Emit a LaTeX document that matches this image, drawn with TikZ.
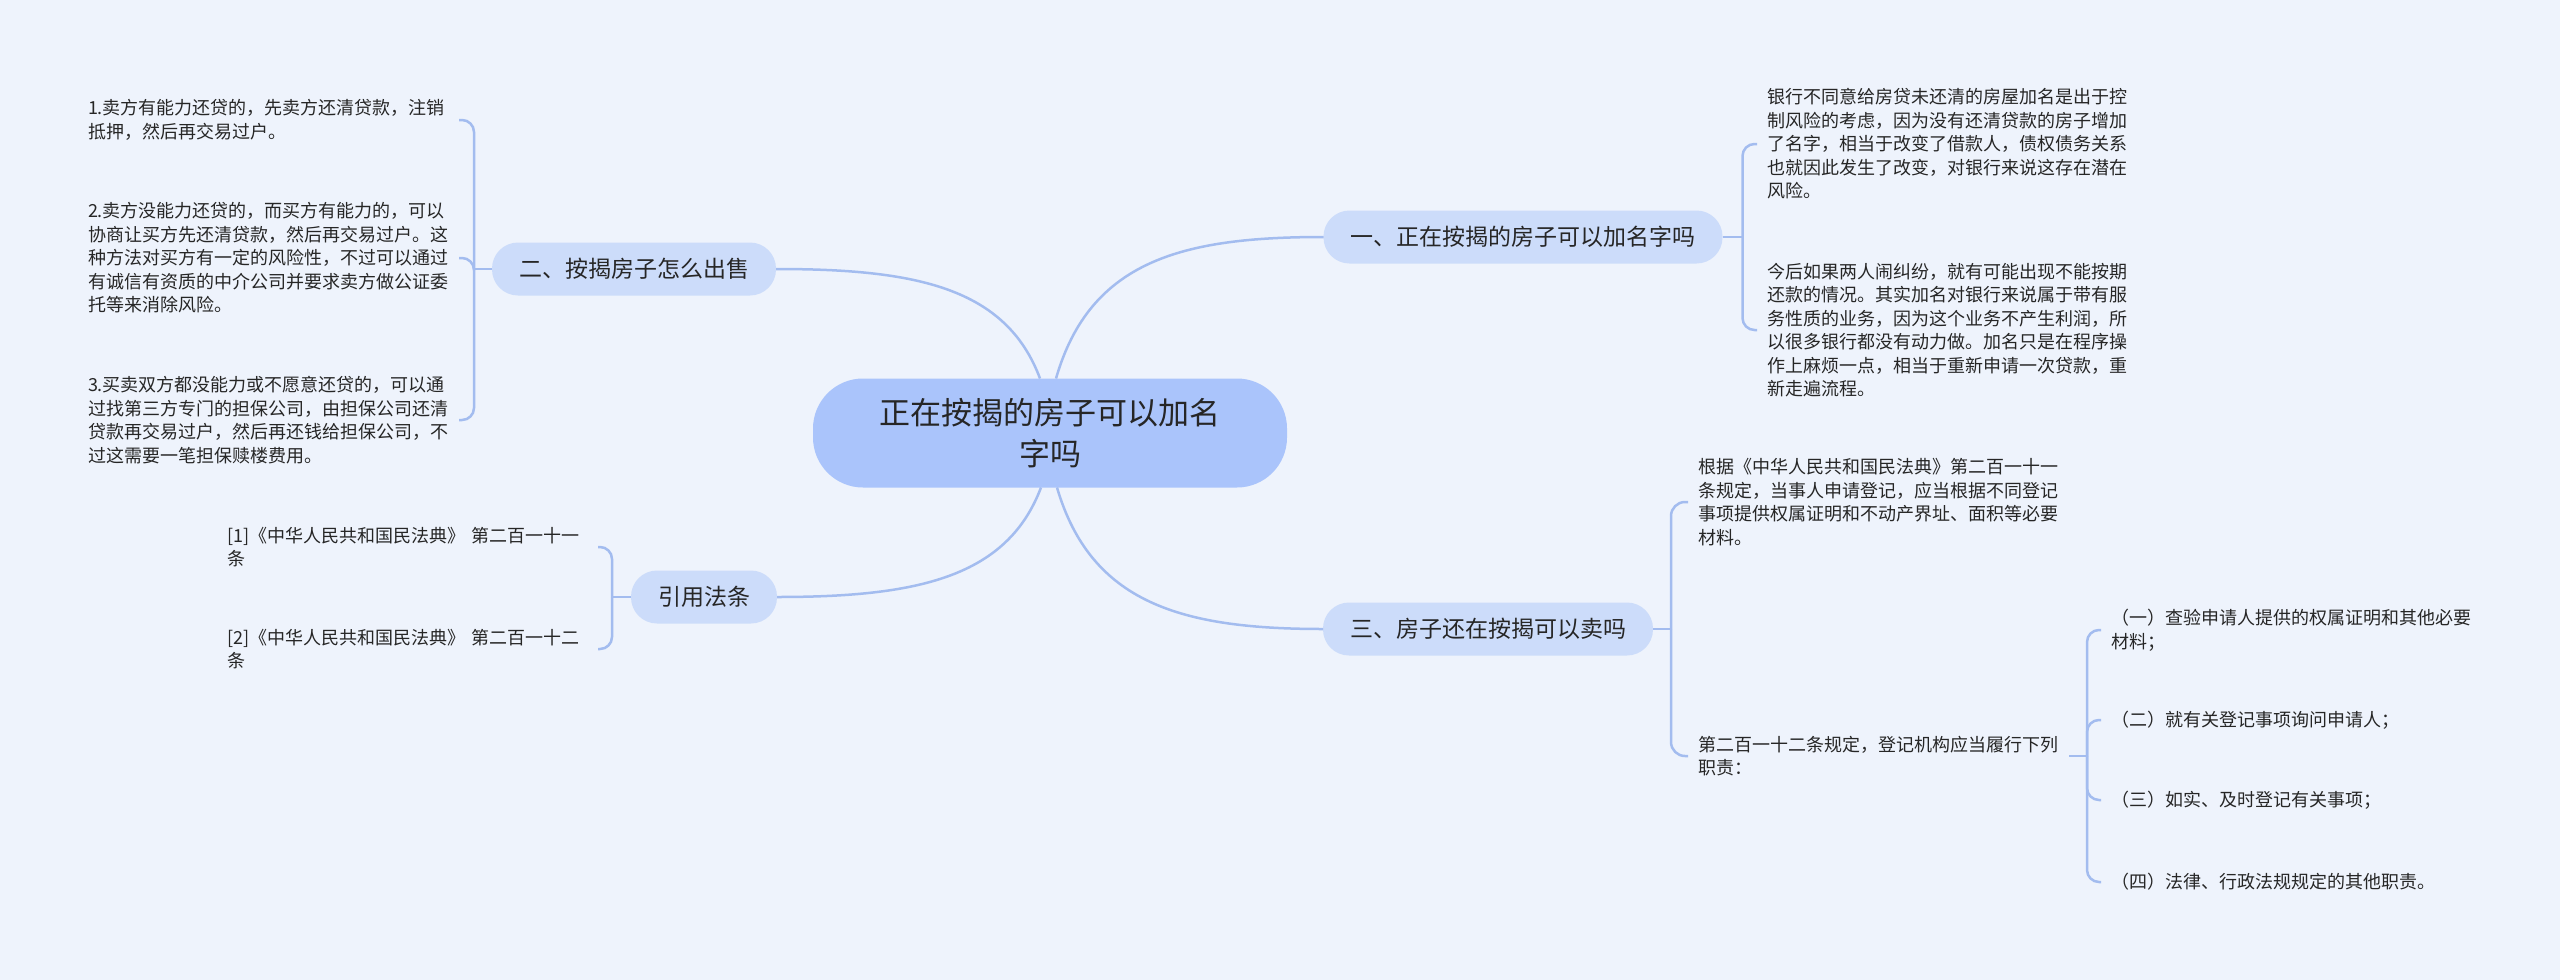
\documentclass[tikz,border=0pt]{standalone}
\usepackage{fontspec}
\setmainfont{Noto Sans CJK SC}
\definecolor{bgc}{HTML}{EEF3FC}
\definecolor{hubc}{HTML}{AAC4FB}
\definecolor{brc}{HTML}{CCDCFA}
\definecolor{lnc}{HTML}{A3BCEF}
\definecolor{txc}{HTML}{262626}
\begin{document}
\begin{tikzpicture}[x=1pt,y=-1pt,ctr/.style={fill=hubc,rounded corners=50pt,minimum width=474pt,minimum height=109pt,outer sep=0pt,align=center,text=txc,font=\fontsize{31}{41}\selectfont},br/.style={fill=brc,rounded corners=26pt,minimum height=53pt,inner xsep=27pt,outer sep=0pt,text=txc,font=\fontsize{23}{28}\selectfont},tx/.style={text width=361pt,inner xsep=10pt,inner ysep=0pt,outer sep=0pt,align=left,text=txc,font=\fontsize{18}{23.5}\selectfont},ln/.style={draw=lnc,line width=2.5pt}]
\fill[bgc] (0,0) rectangle (2560,980);
\node[ctr] (m) at (1050,433) {正在按揭的房子可以加名\\字吗};
\node[br] (b1) at (1523,237) {一、正在按揭的房子可以加名字吗};
\node[br] (b2) at (634,269) {二、按揭房子怎么出售};
\node[br] (b3) at (1488,629) {三、房子还在按揭可以卖吗};
\node[br] (b4) at (704,597) {引用法条};
\node[tx,anchor=west] (t11) at (1757,144) {银行不同意给房贷未还清的房屋加名是出于控\\制风险的考虑，因为没有还清贷款的房子增加\\了名字，相当于改变了借款人，债权债务关系\\也就因此发生了改变，对银行来说这存在潜在\\风险。};
\node[tx,anchor=west] (t12) at (1757,330) {今后如果两人闹纠纷，就有可能出现不能按期\\还款的情况。其实加名对银行来说属于带有服\\务性质的业务，因为这个业务不产生利润，所\\以很多银行都没有动力做。加名只是在程序操\\作上麻烦一点，相当于重新申请一次贷款，重\\新走遍流程。};
\node[tx,anchor=east] (t21) at (459,120) {1.卖方有能力还贷的，先卖方还清贷款，注销\\抵押，然后再交易过户。};
\node[tx,anchor=east] (t22) at (459,258) {2.卖方没能力还贷的，而买方有能力的，可以\\协商让买方先还清贷款，然后再交易过户。这\\种方法对买方有一定的风险性，不过可以通过\\有诚信有资质的中介公司并要求卖方做公证委\\托等来消除风险。};
\node[tx,anchor=east] (t23) at (459,420) {3.买卖双方都没能力或不愿意还贷的，可以通\\过找第三方专门的担保公司，由担保公司还清\\贷款再交易过户，然后再还钱给担保公司，不\\过这需要一笔担保赎楼费用。};
\node[tx,anchor=east] (t41) at (598,547) {[1]《中华人民共和国民法典》 第二百一十一\\条};
\node[tx,anchor=east] (t42) at (598,649) {[2]《中华人民共和国民法典》 第二百一十二\\条};
\node[tx,anchor=west] (t31) at (1688,502) {根据《中华人民共和国民法典》第二百一十一\\条规定，当事人申请登记，应当根据不同登记\\事项提供权属证明和不动产界址、面积等必要\\材料。};
\node[tx,anchor=west] (t32) at (1688,756) {第二百一十二条规定，登记机构应当履行下列\\职责：};
\node[tx,anchor=west] (g1) at (2101,630) {（一）查验申请人提供的权属证明和其他必要\\材料；};
\node[tx,anchor=west] (g2) at (2101,720) {（二）就有关登记事项询问申请人；};
\node[tx,anchor=west] (g3) at (2101,800) {（三）如实、及时登记有关事项；};
\node[tx,anchor=west] (g4) at (2101,882) {（四）法律、行政法规规定的其他职责。};
\draw[ln] ([xshift=6pt]m.north) .. controls +(34,-118) and +(-141,0) .. (b1.west);
\draw[ln] ([xshift=-10pt]m.north) .. controls +(-34,-91) and +(140,0) .. (b2.east);
\draw[ln] ([xshift=-9pt]m.south) .. controls +(-34,90) and +(140,0) .. (b4.east);
\draw[ln] ([xshift=7pt]m.south) .. controls +(34,116) and +(-141,0) .. (b3.west);
\coordinate (j1) at ([xshift=20pt]b1.east);
\coordinate (j2) at ([xshift=-18pt]b2.west);
\coordinate (j3) at ([xshift=18pt]b3.east);
\coordinate (j4) at ([xshift=-19pt]b4.west);
\coordinate (j5) at ([xshift=18pt]t32.east);
\draw[ln] (b1.east) -- (j1);
\draw[ln,rounded corners=12pt] (j1) |- (t11.west);
\draw[ln,rounded corners=12pt] (j1) |- (t12.west);
\draw[ln] (b2.west) -- (j2);
\draw[ln,rounded corners=12pt] (j2) |- (t21.east);
\draw[ln,rounded corners=12pt] (j2) |- (t22.east);
\draw[ln,rounded corners=12pt] (j2) |- (t23.east);
\draw[ln] (b4.west) -- (j4);
\draw[ln,rounded corners=12pt] (j4) |- (t41.east);
\draw[ln,rounded corners=12pt] (j4) |- (t42.east);
\draw[ln] (b3.east) -- (j3);
\draw[ln,rounded corners=14pt] (j3) |- (t31.west);
\draw[ln,rounded corners=14pt] (j3) |- (t32.west);
\draw[ln] (t32.east) -- (j5);
\foreach \g in {g1,g2,g3,g4}
  \draw[ln,rounded corners=12pt] (j5) |- (\g.west);
\end{tikzpicture}
\end{document}
